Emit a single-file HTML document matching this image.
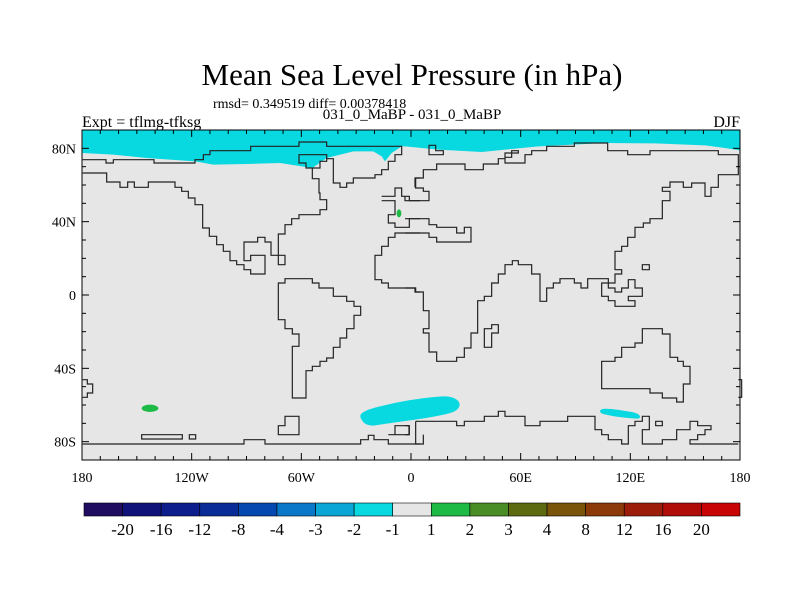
<!DOCTYPE html>
<html><head><meta charset="utf-8"><style>
body{margin:0;background:#fff;font-family:"Liberation Serif",serif;}
svg{display:block}
.cl{fill:none;stroke:#222;stroke-width:1.2;vector-effect:non-scaling-stroke}
</style></head><body>
<svg id="c" width="800" height="600" font-family="Liberation Serif, serif">
<defs><clipPath id="mc"><rect x="82" y="130" width="658" height="330"/></clipPath></defs>
<text x="412" y="85" font-size="31" text-anchor="middle">Mean Sea Level Pressure (in hPa)</text>
<text x="213" y="108" font-size="14">rmsd= 0.349519 diff= 0.00378418</text>
<text x="412" y="119" font-size="15" text-anchor="middle">031_0_MaBP - 031_0_MaBP</text>
<text x="82" y="127" font-size="16">Expt = tflmg-tfksg</text>
<text x="740" y="127" font-size="16" text-anchor="end">DJF</text>
<g id="map">
<rect x="82" y="130" width="658" height="330" fill="#e6e6e6"/>
<g clip-path="url(#mc)">
<g transform="translate(80,128) scale(0.33333)">
<path d="M8,6 L1030,6 L1030,55 L965,55 L935,75 L915,100 L905,85 L880,70 L820,70 L740,90 L697,120 L600,105 L500,108 L400,110 L345,100 L200,90 L100,80 L8,75 Z" fill="#08d8e0"/>
<path d="M845,875 C830,855 860,845 900,835 C980,815 1060,805 1100,805 C1150,810 1150,845 1110,855 C1060,870 960,880 880,893 C860,893 850,885 845,875 Z" fill="#08d8e0"/>
<ellipse cx="210" cy="841" rx="25" ry="11" fill="#1eba46"/>
<ellipse cx="957" cy="256" rx="7" ry="12" fill="#1eba46"/>
</g>
<g transform="translate(405,128) scale(0.33333)">
<path d="M0,6 L1010,6 L1010,68 L960,60 L900,52 L750,46 L600,45 L400,55 L230,72 L100,65 L0,55 Z" fill="#08d8e0"/>
<path d="M588,845 C595,838 640,845 680,852 C705,856 712,870 698,872 C660,870 620,865 595,858 C585,855 583,850 588,845 Z" fill="#08d8e0"/>
</g>
</g>
<g transform="translate(80,128) scale(0.33333)">
<path class="cl" d="M8,95 H78 V105 H100 V95 H222 V105 H345 V95 H370 V80 H390 V68 H512 V55 H657 V42 H740 V55 H965 V80 H945 V100 H925 V125 H905 V140 H885 V150 H820 V165 H800 V178 H780 V165 H760 V92 H740 V100 H720 V120 H697"/>
<path class="cl" d="M697,120 H678 V105 H657 V80 H740 V92"/>
<path class="cl" d="M8,135 H80 V162 H120 V178 H143 V162 H163 V178 H205 V162 H285 V178 H305 V190 H325 V210 H345 V230 H368 V300 H388 V325 H410 V350 H430 V370 H450 V398 H470 V410 H492 V425 H512 V438 H555 V382 H512 V398 H492 V342 H533 V328 H555 V342 H573 V382 H595 V410 H615 V382 H595 V318 H615 V290 H635 V272 H657 V260 H720 V245 H740 V215 H720 V195 H717 V152 H697 V120"/>
<path class="cl" d="M1020,150 H1005 V178 M905,205 H945 V180 H965 V205 H988 V218 H1020 M905,218 H945 V260 H925 V285 H945 V298 H988 V272 H1020"/>
<path class="cl" d="M1020,315 H945 V328 H925 V355 H905 V382 H885 V455 H905 V465 H925 V480 H1005 V492 H1020"/>
<path class="cl" d="M595,465 H615 V452 H697 V465 H717 V480 H760 V505 H800 V520 H822 V535 H842 V562 H822 V602 H800 V630 H780 V658 H760 V690 H740 V700 H720 V715 H697 V728 H678 V810 H637 V655 H657 V618 H637 V602 H615 V575 H595 Z"/>
<path class="cl" d="M8,755 H22 V768 H38 V795 H22 V808 H8"/>
<path class="cl" d="M595,893 H615 V865 H657 V920 H595 Z M185,920 H307 V933 H185 Z M328,920 H347 V933 H328 Z M925,920 H945 V893 H988 V920 H925 Z"/>
<path class="cl" d="M8,948 H492 V935 H555 V948 H842 V935 H865 V922 H882 V935 H925 V948 H1020"/>
</g>
<g transform="translate(405,128) scale(0.33333)">
<path class="cl" d="M72,52 H92 V68 H115 V80 H72 Z"/>
<path class="cl" d="M0,205 V218 H72 V190 H55 V180 H32 V150 H55 V125 H95 V108 H180 V125 H235 V108 H280 V92 H300 V75 H320 V68 H340 V75 H320 V88 H300 V105 H360 V95 H360 V80 H380 V68 H425 V55 H508 V45 H608 V68 H668 V80 H735 V68 H940 V80 H1000 V95 V140 H940 V178 H918 V205 H900 V165 H860 V178 H835 V162 H795 V178 H772 V190 H795 V218 H772 V272 H735 V285 H715 V298 H690 V328 H668 V355 H650 V370 H630 V425 H650 V438 H630 V465 H610 V452 H548 V480 H528 V465 H508 V452 H465 V465 H445 V480 H425 V520 H405 V438 H380 V410 H340 V398 H322 V410 H300 V438 H280 V465 H260 V505 H238 V518 H218 V615 H198 V660 H178 V688 H155 V700 H95 V672 H72 V615 H55 V602 H72 V548 H55 V492 H32 V480 H0"/>
<path class="cl" d="M0,272 H72 V290 H95 V298 H155 V315 H178 V298 H198 V342 H95 V328 H72 V315 H0"/>
<path class="cl" d="M238,602 H260 V590 H280 V615 H260 V658 H238 Z"/>
<path class="cl" d="M590,465 V505 H610 V518 H630 V535 H690 V518 H670 V505 H712 V480 H690 V455 H670 V480 H650 V492 H630 V480 H610 V465 Z"/>
<path class="cl" d="M712,410 H733 V425 H712 Z"/>
<path class="cl" d="M590,700 H630 V688 H650 V658 H690 V645 H712 V602 H772 V618 H795 V688 H818 V700 H835 V715 H855 V768 H835 V822 H815 V810 H772 V795 H735 V782 H590 Z"/>
<path class="cl" d="M1000,755 H1010 V808 H1000"/>
<path class="cl" d="M32,880 H155 V893 H178 V880 H238 V865 H280 V850 H300 V865 H360 V893 H405 V880 H488 V865 H570 V905 H590 V920 H610 V935 H650 V948 H670 V893 H690 V880 H712 V865 H733 V905 H712 V948 H772 V935 H815 V905 H855 V880 H878 V893 H918 V905 H900 V920 H878 V935 H855 V948 H1000 M0,893 H12 V920 H0 M32,880 V948 H55 V920 M752,880 H772 V893 H752 Z"/>
</g>
</g>
<g id="cb"></g>
</svg>
<script>
const NS='http://www.w3.org/2000/svg';
const colors=['#200d60','#10127a','#0d1e8c','#0a2c96','#0548b0','#0a78c8','#0aa6d6','#08d8e0','#e6e6e6','#1eba46','#4a8c26','#5e6a10','#7a5408','#8c3a0a','#9c1e0a','#b00c08','#c80404'];
const cbLabels=['-20','-16','-12','-8','-4','-3','-2','-1','1','2','3','4','8','12','16','20'];
const lonTicks=[-180,-120,-60,0,60,120,180];
const lonLabels=['180','120W','60W','0','60E','120E','180'];
const latTicks=[80,40,0,-40,-80];
const latLabels=['80N','40N','0','40S','80S'];
const X0=82,X1=740,Y0=130,Y1=460;
const px=lon=>X0+(lon+180)/360*(X1-X0);
const py=lat=>Y0+(90-lat)/180*(Y1-Y0);
const map=document.getElementById('map');
function el(tag,attrs,parent){const e=document.createElementNS(NS,tag);for(const k in attrs)e.setAttribute(k,attrs[k]);(parent||map).appendChild(e);return e;}
const fr=el('rect',{x:X0,y:Y0,width:X1-X0,height:Y1-Y0,fill:'none',stroke:'#000','stroke-width':1});


for(let lon=-180;lon<=180;lon+=10){const L=lon%60===0?7:4;
el('line',{x1:px(lon),x2:px(lon),y1:Y0,y2:Y0+L,stroke:'#000'});el('line',{x1:px(lon),x2:px(lon),y1:Y1,y2:Y1-L,stroke:'#000'});}
for(let lat=-80;lat<=80;lat+=10){const L=lat%40===0?7:4;
el('line',{x1:X0,x2:X0+L,y1:py(lat),y2:py(lat),stroke:'#000'});el('line',{x1:X1,x2:X1-L,y1:py(lat),y2:py(lat),stroke:'#000'});}
lonTicks.forEach((v,i)=>{const t=el('text',{x:px(v),y:482,'font-size':14,'text-anchor':'middle'});t.textContent=lonLabels[i];

});
latTicks.forEach((v,i)=>{const t=el('text',{x:76,y:py(v)+5,'font-size':14,'text-anchor':'end'});t.textContent=latLabels[i];

});
const cb=document.getElementById('cb');const CX0=84,CX1=740,bw=(CX1-CX0)/colors.length;
colors.forEach((c,i)=>{const r=el('rect',{x:CX0+i*bw,y:503,width:bw,height:13,fill:c,stroke:'#000','stroke-width':0.6},cb);

});
cbLabels.forEach((s,i)=>{const t=el('text',{x:CX0+(i+1)*bw,y:535,'font-size':17,'text-anchor':'middle'},cb);t.textContent=s;

});
</script>
</body></html>
